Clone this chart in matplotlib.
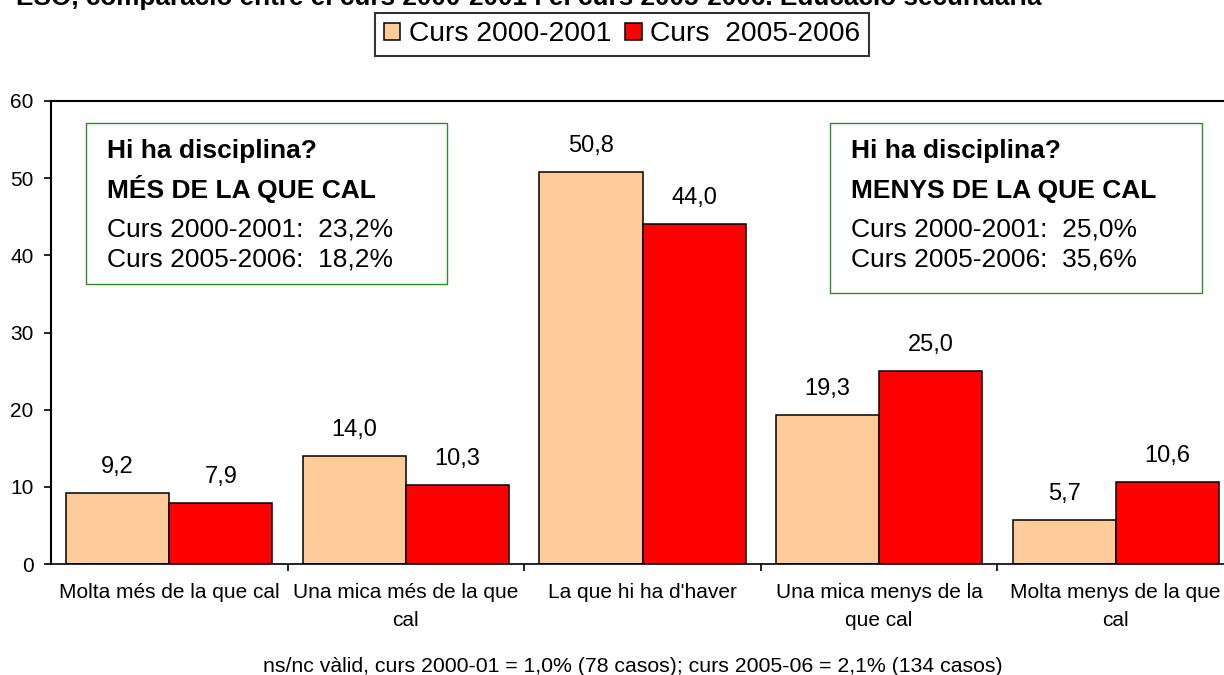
import numpy as np
import matplotlib
matplotlib.use("Agg")
import matplotlib.pyplot as plt
from matplotlib.patches import Rectangle

plt.rcParams["font.family"] = ["Liberation Sans", "DejaVu Sans"]

categories = [
    "Molta més de la que cal",
    "Una mica més de la que\ncal",
    "La que hi ha d'haver",
    "Una mica menys de la\nque cal",
    "Molta menys de la que\ncal",
]
curs_2000 = [9.2, 14.0, 50.8, 19.3, 5.7]
curs_2005 = [7.9, 10.3, 44.0, 25.0, 10.6]
series_names = ["Curs 2000-2001", "Curs  2005-2006"]

box_left = ["Hi ha disciplina?", "MÉS DE LA QUE CAL",
            "Curs 2000-2001:  23,2%", "Curs 2005-2006:  18,2%"]
box_right = ["Hi ha disciplina?", "MENYS DE LA QUE CAL",
             "Curs 2000-2001:  25,0%", "Curs 2005-2006:  35,6%"]

title = "ESO, comparació entre el curs 2000-2001 i el curs 2005-2006. Educació secundària"
footnote = "ns/nc vàlid, curs 2000-01 = 1,0% (78 casos); curs 2005-06 = 2,1% (134 casos)"

W, H = 1224, 675
fig = plt.figure(figsize=(W / 100, H / 100), dpi=100)


def fx(px):
    return px / W


def fy(py):
    return 1 - py / H


# plot area runs past the right edge, like the original
ax = fig.add_axes([fx(51), fy(564), fx(1234) - fx(51), fy(101) - fy(564)])

x = np.arange(len(categories))
w = 0.436
b1 = ax.bar(x - w / 2, curs_2000, w, color="#FFCC99", edgecolor="black", linewidth=1.1,
            label=series_names[0])
b2 = ax.bar(x + w / 2, curs_2005, w, color="#FF0000", edgecolor="black", linewidth=1.1,
            label=series_names[1])

for bars, vals in [(b1, curs_2000), (b2, curs_2005)]:
    for r, v in zip(bars, vals):
        ax.annotate(f"{v:.1f}".replace(".", ","), (r.get_x() + r.get_width() / 2, v),
                    xytext=(0, 14.4), textcoords="offset points",
                    ha="center", va="baseline", fontsize=17)

ax.set_xlim(-0.5, 4.5)
ax.set_ylim(0, 60)
ax.set_yticks(np.arange(0, 61, 10))
ax.tick_params(axis="y", length=5, width=1.2, pad=7.5, labelsize=15)

# category labels centred on groups, ticks at group boundaries
ax.set_xticks(x)
ax.set_xticklabels(categories, fontsize=15, linespacing=1.6)
ax.tick_params(axis="x", which="major", length=0, pad=14)
ax.set_xticks(np.arange(0.5, 4.5, 1), minor=True)
ax.tick_params(axis="x", which="minor", length=5, width=1.2)

for s in ["left", "top", "bottom", "right"]:
    ax.spines[s].set_color("black")
ax.spines["left"].set_linewidth(1.5)
ax.spines["top"].set_linewidth(1.5)
ax.spines["bottom"].set_linewidth(1.2)

# annotation boxes
green = "#2E8B2E"
for (x0, y0, x1, y1), lines, tx in [((86, 123, 447, 284), box_left, 107),
                                     ((830, 123, 1202, 293), box_right, 851)]:
    fig.patches.append(Rectangle((fx(x0), fy(y1)), fx(x1) - fx(x0), fy(y0) - fy(y1),
                                 transform=fig.transFigure, fill=False,
                                 edgecolor=green, linewidth=1.0))
    for line, base, bold in zip(lines, [158, 198, 237, 267], [True, True, False, False]):
        fig.text(fx(tx), fy(base), line, fontsize=19, va="baseline", ha="left",
                 fontweight="bold" if bold else "normal")

leg = fig.legend(handles=[b1, b2], labels=series_names, loc="upper center",
                 bbox_to_anchor=(fx(622), fy(13)), ncol=2, fontsize=20.3,
                 frameon=True, fancybox=False, borderaxespad=0,
                 handlelength=0.58, handleheight=0.58, handletextpad=0.3,
                 columnspacing=0.5, borderpad=0.3)
leg.get_frame().set_edgecolor("black")
leg.get_frame().set_linewidth(1.5)

# title is cut by the top edge in the original chart
fig.text(fx(16), fy(5), title, fontsize=18.8, fontweight="bold", va="baseline", ha="left")
fig.text(fx(633), fy(672), footnote, fontsize=15.3, va="baseline", ha="center")

fig.savefig("out.png", dpi=100)
